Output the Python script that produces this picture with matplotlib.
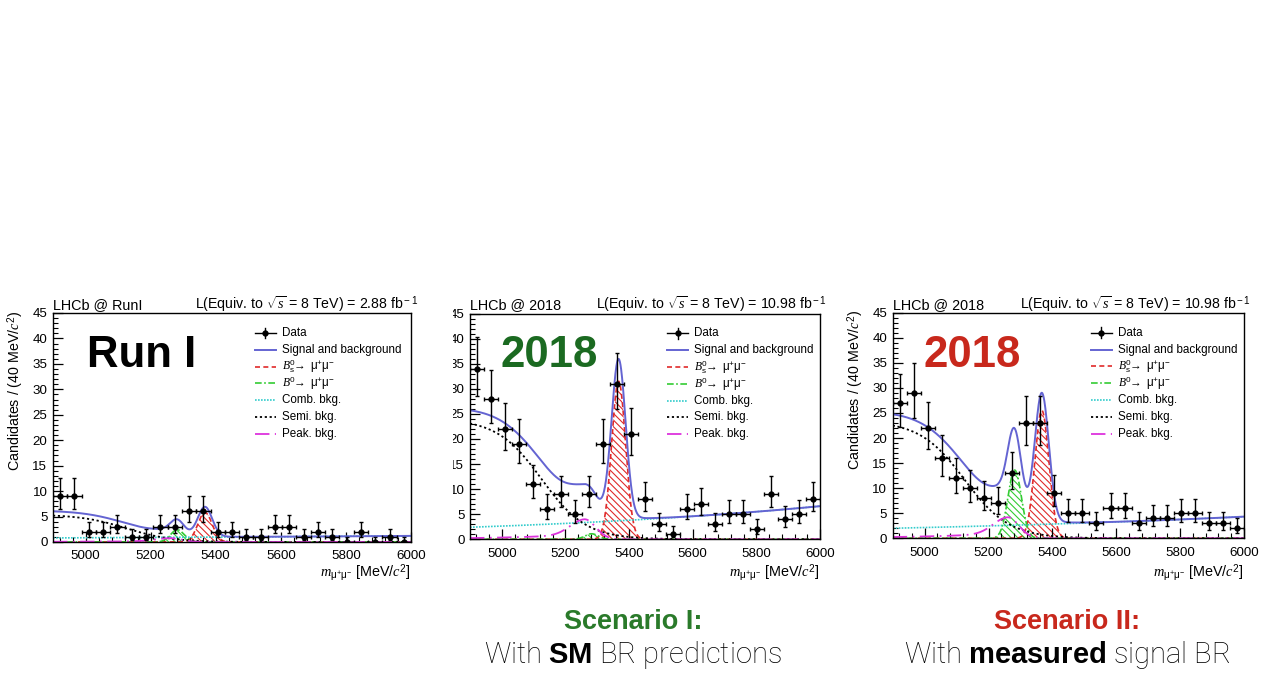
import matplotlib; matplotlib.use('Agg')
import matplotlib.pyplot as plt
import matplotlib.patches as patches
import numpy as np

plt.rcParams.update({'font.family': ['Liberation Sans', 'DejaVu Sans'],
                     'mathtext.fontset': 'custom',
                     'mathtext.rm': 'Liberation Sans',
                     'mathtext.it': 'Liberation Serif:italic',
                     'mathtext.bf': 'Liberation Sans:bold',
                     'hatch.linewidth': 0.8})

W, H = 1270, 677
BLUE = '#6464d2'
RED = '#e02a2a'
GREEN = '#33cc33'
CYAN = '#33cccc'
MAGENTA = '#dd33dd'
DKGREEN = '#1b6a21'
DKRED = '#c8281c'

# 25 bins of 44 MeV between 4900 and 6000
BIN_EDGES = np.arange(4900, 6001, 44)

COUNTS_RUN1 = [9, 9, 2, 2, 3, 1, 1, 3, 3, 6, 6, 2, 2, 1, 1, 3, 3, 1, 2, 1, 0, 2, 0, 1, 0]
COUNTS_SM = [34, 28, 22, 19, 11, 6, 9, 5, 9, 19, 31, 21, 8, 3, 1, 6, 7, 3, 5, 5, 2, 9, 4, 5, 8]
COUNTS_MEAS = [27, 29, 22, 16, 12, 10, 8, 7, 13, 23, 23, 9, 5, 5, 3, 6, 6, 3, 4, 4, 5, 5, 3, 3, 2]

# fit components (Run I, 2018 SM, 2018 measured)
COMB_AT_4900 = [0.8, 2.4, 2.0]
COMB_SLOPE = [0.00037, 0.00092, 0.0007]
SEMI_NORM = [5.4, 24.0, 23.4]
PEAK_CORE = [0.55, 3.0, 3.15]
PEAK_TAIL = [0.2, 1.0, 1.05]
B0_HEIGHT = [2.4, 1.1, 13.6]
BS_HEIGHT = [5.8, 31.5, 25.5]

TOP_LEFT = ['LHCb @ RunI', 'LHCb @ 2018', 'LHCb @ 2018']
LUMI = ['2.88', '10.98', '10.98']
BIG_LABEL = ['Run I', '2018', '2018']
BIG_COLOR = ['black', DKGREEN, DKRED]
BIG_OFFSET = [34, 30, 31]

LEGEND_LABELS = ['Data', 'Signal and background',
                 r'$B^0_{\rm s}\!\!\rightarrow$ μ$^{+}$μ$^{-}$',
                 r'$B^0\!\!\rightarrow$ μ$^{+}$μ$^{-}$',
                 'Comb. bkg.', 'Semi. bkg.', 'Peak. bkg.']

# axes boxes in pixels: left, top, right, bottom
BOXES = [(53, 313, 411, 542), (470, 313.5, 820, 539.3), (892.7, 312.7, 1244, 538.3)]


def fx(px):
    return px / W


def fy(py):
    return 1 - py / H


def components(i, m):
    comb = COMB_AT_4900[i] * np.exp(COMB_SLOPE[i] * (m - 4900))
    semi = SEMI_NORM[i] / (1 + np.exp((m - 5125) / 70.0))
    d = m - 5260
    peak = np.where(d < 0,
                    PEAK_CORE[i] * np.exp(-0.5 * (d / 45.0) ** 2) + PEAK_TAIL[i] * np.exp(d / 250.0),
                    (PEAK_CORE[i] + PEAK_TAIL[i]) * np.exp(-0.5 * (d / 35.0) ** 2))
    b0 = B0_HEIGHT[i] * np.exp(-0.5 * ((m - 5282) / 21.0) ** 2)
    bs = BS_HEIGHT[i] * np.exp(-0.5 * ((m - 5367) / 22.0) ** 2)
    return comb, semi, peak, b0, bs


fig = plt.figure(figsize=(W / 100, H / 100), dpi=100)
fig.patch.set_facecolor('white')

all_counts = [COUNTS_RUN1, COUNTS_SM, COUNTS_MEAS]
m = np.linspace(4900, 6000, 1101)

styles = [dict(color=BLUE, lw=1.4),
          dict(color=RED, lw=1.2, ls=(0, (3, 2))),
          dict(color=GREEN, lw=1.2, ls=(0, (4, 1.5, 1, 1.5))),
          dict(color=CYAN, lw=1.2, ls=(0, (1, 0.8))),
          dict(color='black', lw=1.3, ls=(0, (1.2, 1.5))),
          dict(color=MAGENTA, lw=1.3, ls=(0, (8, 3, 1, 3)))]

for i, (l, t, r, b) in enumerate(BOXES):
    ax = fig.add_axes([fx(l), fy(b), fx(r) - fx(l), fy(t) - fy(b)])
    comb, semi, peak, b0, bs = components(i, m)
    total = comb + semi + peak + b0 + bs

    ax.fill_between(m, 0, bs, facecolor='none', edgecolor=RED, hatch='\\\\\\\\\\', lw=0)
    ax.fill_between(m, 0, b0, facecolor='none', edgecolor=GREEN, hatch='\\\\\\\\\\', lw=0)
    for curve, st in zip([bs, b0, comb, semi, peak, total], styles[1:] + styles[:1]):
        ax.plot(m, curve, **st)

    n = np.array(all_counts[i], dtype=float)
    centers = 0.5 * (BIN_EDGES[:-1] + BIN_EDGES[1:])
    lo = np.sqrt(n + 0.25) - 0.5
    hi = np.sqrt(n + 0.25) + 0.5
    ax.errorbar(centers, n, yerr=[lo, hi], xerr=22, fmt='o', color='black',
                ms=3.5, lw=1.0, capsize=1.5, capthick=1.0, zorder=5)

    ax.set_xlim(4900, 6000)
    ax.set_ylim(0, 45)
    ax.set_xticks(np.arange(5000, 6001, 200))
    ax.set_xticks(np.arange(4920, 6001, 40), minor=True)
    ax.set_yticks(np.arange(0, 46, 5))
    ax.set_yticks(np.arange(0, 46, 1), minor=True)
    ax.tick_params(which='both', direction='in', labelsize=9.6, top=False, right=False)
    ax.tick_params(which='major', length=7, width=0.9)
    ax.tick_params(which='minor', length=3.5, width=0.8)
    ax.tick_params(axis='x', pad=6)
    ax.tick_params(axis='y', pad=4)
    for s in ax.spines.values():
        s.set_linewidth(1.0)

    # legend drawn by hand, ROOT-style rows
    x0 = fx(l + 0.564 * (r - l))
    x1 = fx(l + 0.623 * (r - l))
    xt = fx(l + 0.640 * (r - l))
    for j, lab in enumerate(LEGEND_LABELS):
        yj = fy(t + 20 + 16.8 * j)
        if j == 0:
            fig.lines.append(plt.Line2D([x0, x1], [yj, yj], color='black', lw=1.0,
                                        transform=fig.transFigure))
            fig.lines.append(plt.Line2D([(x0 + x1) / 2] * 2, [yj - 0.008, yj + 0.008],
                                        color='black', lw=1.0, transform=fig.transFigure))
            fig.lines.append(plt.Line2D([(x0 + x1) / 2], [yj], color='black', marker='o',
                                        ms=3.5, transform=fig.transFigure))
        else:
            fig.lines.append(plt.Line2D([x0, x1], [yj, yj], transform=fig.transFigure,
                                        **styles[j - 1]))
        fig.text(xt, yj, lab, ha='left', va='center', fontsize=8.4)

    fig.text(fx(l), fy(309), TOP_LEFT[i], ha='left', va='baseline', fontsize=10.4)
    fig.text(fx(r + 7), fy(309),
             r'L(Equiv. to $\sqrt{s}$ = 8 TeV) = ' + LUMI[i] + r' fb$^{\rm -1}$',
             ha='right', va='baseline', fontsize=10.2)
    fig.text(fx(l + BIG_OFFSET[i]), fy(367), BIG_LABEL[i], ha='left', va='baseline',
             fontsize=31.5, fontweight='bold', color=BIG_COLOR[i])
    fig.text(fx(r), fy(573), r'$m_{\rm \mu^{+}\mu^{-}}$ [MeV/$c^{2}$]',
             ha='right', va='center', fontsize=10.4)
    if i != 1:
        fig.text(fx(l - 37), fy(t - 3), r'Candidates / (40 MeV/$c^{2}$)', rotation=90,
                 ha='center', va='top', fontsize=10.3)

# panel 2 is cut on its left side in the original slide
fig.patches.append(patches.Rectangle((fx(424), fy(548)), fx(453) - fx(424), fy(300) - fy(548),
                                     transform=fig.transFigure, facecolor='white',
                                     edgecolor='none', zorder=10))

fig.text(fx(633), fy(622), 'Scenario I:', ha='center', va='center',
         fontsize=19.5, fontweight='bold', color='#2a7a2a')
fig.text(fx(633), fy(655), r'With $\bf{SM}$ BR predictions', ha='center', va='center',
         fontsize=21, family=['Roboto', 'Liberation Sans'], fontweight='light')
fig.text(fx(1067), fy(622), 'Scenario II:', ha='center', va='center',
         fontsize=19.5, fontweight='bold', color=DKRED)
fig.text(fx(1067), fy(655), r'With $\bf{measured}$ signal BR', ha='center', va='center',
         fontsize=21, family=['Roboto', 'Liberation Sans'], fontweight='light')

fig.savefig('out.png', dpi=100)
